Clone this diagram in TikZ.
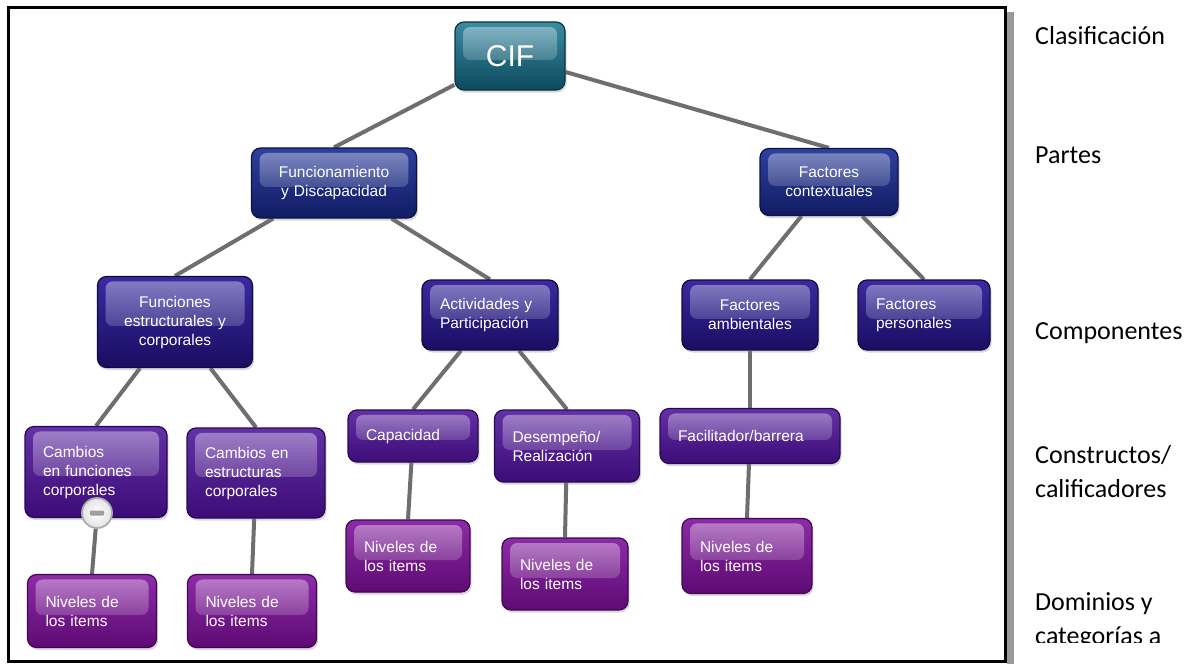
\documentclass[tikz,border=0pt]{standalone}
\usepackage{fontspec}
\setmainfont{Liberation Sans}
\newfontfamily\sidefont{Carlito}
\usepackage{tikz}
\usetikzlibrary{positioning, calc, backgrounds, shadows, fadings}
\definecolor{cifhi}{HTML}{3A8BA3}
\definecolor{ciflo}{HTML}{0D4A5E}
\definecolor{cifrim}{HTML}{0A3442}
\definecolor{parthi}{HTML}{2E409E}
\definecolor{partlo}{HTML}{121C64}
\definecolor{partrim}{HTML}{0C1245}
\definecolor{comphi}{HTML}{3A2AA0}
\definecolor{complo}{HTML}{1A0D62}
\definecolor{comprim}{HTML}{120845}
\definecolor{consthi}{HTML}{6431A6}
\definecolor{constlo}{HTML}{3C0C77}
\definecolor{constrim}{HTML}{2A0755}
\definecolor{domhi}{HTML}{8C2CA6}
\definecolor{domlo}{HTML}{5E0A74}
\definecolor{domrim}{HTML}{420553}
\definecolor{wiregray}{HTML}{6E6E6E}
\definecolor{edgeshade}{HTML}{9A9A9A}
\tikzset{
  gloss/.style    = {rectangle, rounded corners=9pt, line width=1.2pt, text=white,
                     font=\fontsize{15.5}{19}\selectfont, inner ysep=4pt,
                     drop shadow={shadow xshift=1.5pt, shadow yshift=-2.5pt, opacity=0.3},
                     path picture={\fill[white, fill opacity=0.4, path fading=south, rounded corners=7pt]
                       ($(path picture bounding box.north west)+(8pt,-5pt)$) rectangle
                       ($(path picture bounding box.east)+(-8pt,-4pt)$);}},
  dims/.code 2 args = {\pgfmathsetmacro\boxtw{#1-36}%
                     \edef\boxset{minimum width=#1pt, minimum height=#2pt, text width=\boxtw pt}%
                     \expandafter\tikzset\expandafter{\boxset}},
  cifbox/.style   = {gloss, draw=cifrim, top color=cifhi, bottom color=ciflo,
                     font=\fontsize{30}{34}\selectfont, align=center},
  partbox/.style  = {gloss, draw=partrim, top color=parthi, bottom color=partlo},
  compbox/.style  = {gloss, draw=comprim, top color=comphi, bottom color=complo},
  constbox/.style = {gloss, draw=constrim, top color=consthi, bottom color=constlo},
  dombox/.style   = {gloss, draw=domrim, top color=domhi, bottom color=domlo, align=left},
  wire/.style     = {draw=wiregray, line width=4pt},
  knob/.style     = {circle, minimum size=30pt, inner sep=0pt, draw=gray!65, line width=1.8pt,
                     inner color=white, outer color=gray!22,
                     path picture={\fill[gray!75, rounded corners=1pt]
                       ($(path picture bounding box.center)+(-7pt,-2.5pt)$) rectangle
                       ($(path picture bounding box.center)+(7pt,2.5pt)$);}},
  side/.style     = {font=\sidefont\fontsize{26}{34}\selectfont, anchor=west, align=left, inner sep=0pt},
}
\begin{document}
\begin{tikzpicture}[x=1pt, y=-1pt]
  \useasboundingbox (0,0) rectangle (1196,664);

  % classification tree
  \node[cifbox, dims={110}{68}] (cif) at (510,56) {CIF};

  \node[partbox, dims={165}{70}, align=center] (func) at (334,183) {Funcionamiento\\y Discapacidad};
  \node[partbox, dims={138}{67}, align=center] (ctx) at (829,182) {Factores\\contextuales};

  \node[compbox, dims={155}{91}, align=center] (fest) at (175,322) {Funciones\\estructurales y\\corporales};
  \node[compbox, dims={136}{70}, align=left] (act) at (490,315) {Actividades y\\Participación};
  \node[compbox, dims={136}{70}, align=center] (amb) at (750,315) {Factores\\ambientales};
  \node[compbox, dims={132}{70}, align=left] (pers) at (924,315) {Factores\\personales};

  \node[constbox, dims={142}{91}, align=left] (cfun) at (96,472) {Cambios\\en funciones\\corporales};
  \node[constbox, dims={138}{90}, align=left] (cest) at (256,473) {Cambios en\\estructuras\\corporales};
  \node[constbox, dims={130}{52}, align=left] (cap) at (413,436) {Capacidad};
  \node[constbox, dims={145}{72}, align=left] (des) at (567,446) {Desempeño/\\Realización};
  \node[constbox, dims={180}{55}, align=left] (fac) at (750,436) {Facilitador/barrera};

  \node[dombox, dims={129}{73}] (nfun) at (92,611) {Niveles de\\los items};
  \node[dombox, dims={129}{73}] (nest) at (252,611) {Niveles de\\los items};
  \node[dombox, dims={124}{72}] (ncap) at (408,556) {Niveles de\\los items};
  \node[dombox, dims={126}{72}] (ndes) at (565,574) {Niveles de\\los items};
  \node[dombox, dims={130}{75}] (nfac) at (747,556) {Niveles de\\los items};

  \node[knob] (fold) at (97,513) {};

  \begin{scope}[on background layer]
    \fill[white] (0,0) rectangle (1196,664);
    \draw[wire] (cif) -- (func.north);
    \draw[wire] (cif) -- (ctx.north);
    \draw[wire] (func) -- (fest.north);
    \draw[wire] (func) -- (act.north);
    \draw[wire] (ctx) -- (amb.north);
    \draw[wire] (ctx) -- (pers.north);
    \draw[wire] (fest) -- (cfun.north);
    \draw[wire] (fest) -- (cest.north);
    \draw[wire] (act) -- (cap.north);
    \draw[wire] (act) -- (des.north);
    \draw[wire] (amb) -- (fac.north);
    \draw[wire] (fold) -- (nfun.north);
    \draw[wire] (cest) -- (nest.north);
    \draw[wire] (cap) -- (ncap.north);
    \draw[wire] (des) -- (ndes.north);
    \draw[wire] (fac) -- (nfac.north);
  \end{scope}

  % frame
  \fill[edgeshade] (1007,12) rectangle (1014,664);
  \draw[black, line width=3pt] (8.5,7.5) rectangle (1005,661);

  % level names
  \node[side] (lclas) at (1035,36) {Clasificación};
  \node[side] (lpart) at (1035,155) {Partes};
  \node[side] (lcomp) at (1035,333) {Componentes};
  \node[side] (lcons) at (1035,472) {Constructos/\\calificadores};
  \begin{scope}
    \clip (1020,570) rectangle (1196,642);
    \node[side] (ldom) at (1035,621) {Dominios y\\categorías a};
  \end{scope}
\end{tikzpicture}
\end{document}
